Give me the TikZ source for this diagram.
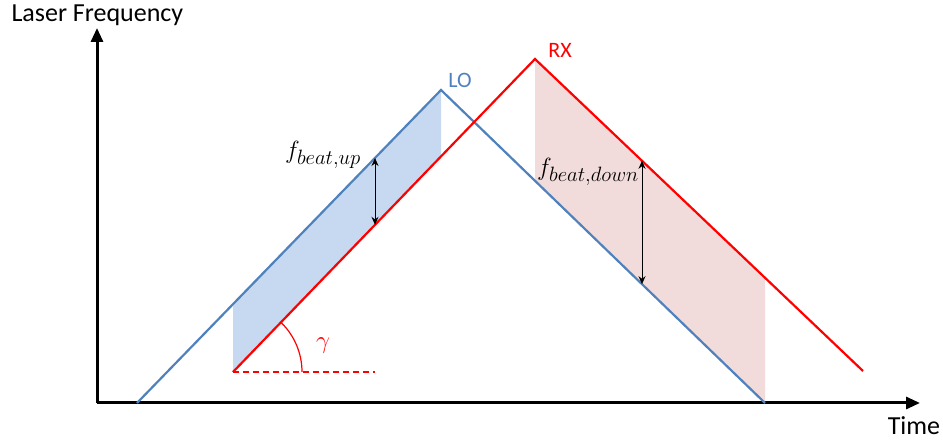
\documentclass[tikz,border=0pt]{standalone}
\usepackage{amsmath}
\usepackage{amssymb}
\usepackage{fontspec}
\setmainfont{Carlito}
\usepackage{tikz}
\usetikzlibrary{arrows.meta}

\definecolor{loblue}{RGB}{79,129,189}
\definecolor{upfill}{RGB}{198,217,240}
\definecolor{downfill}{RGB}{242,220,219}

\begin{document}
\begin{tikzpicture}[x=1pt,y=1pt,
        axis/.style={line width=3pt, -{Triangle[length=14pt,width=12pt]}},
        ramp/.style={line width=2.2pt},
        beat/.style={line width=1pt, {Stealth[length=8pt,width=7pt]}-{Stealth[length=8pt,width=7pt]}},
        biglabel/.style={font=\fontsize{26}{30}\selectfont},
        smalllabel/.style={font=\fontsize{22}{26}\selectfont},
        mathlabel/.style={font=\fontsize{29}{33}\selectfont}]
        \useasboundingbox (-97,-38) rectangle (846,403);

        \coordinate (O) at (0,0);
        \coordinate (LOa) at (40,0);
        \coordinate (LOb) at (344,313);
        \coordinate (LOc) at (668,0);
        \coordinate (RXa) at (136,31);
        \coordinate (RXb) at (438,344);
        \coordinate (RXc) at (766,32);

        \fill[upfill] (RXa) -- (136,98.8) -- (LOb) -- (344,246.6) -- cycle;
        \fill[downfill] (RXb) -- (438,222.2) -- (LOc) -- (668,125.2) -- cycle;

        \draw[axis] (O) -- (823,0);
        \draw[axis] (O) -- (0,375);
        \node[biglabel, anchor=west] (freq) at (-89,388) {Laser Frequency};
        \node[biglabel, inner sep=1pt] (time) at (817,-23) {Time};

        \draw[ramp, loblue] (LOa) -- (LOb) -- (LOc);
        \draw[ramp, red] (RXa) -- (RXb) -- (RXc);
        \node[smalllabel, loblue] (lo) at (363,323) {LO};
        \node[smalllabel, red] (rx) at (463,353) {RX};

        \coordinate (gend) at (278,31);
        \draw[draw=red, line width=1.4pt, dash pattern=on 6pt off 4pt] (RXa) -- (gend);
        \draw[red, line width=1.2pt] ([shift={(0:69)}]RXa) arc (0:46:69);
        \node[font=\fontsize{32}{36}\selectfont, red] (gamma) at (226,57) {$\gamma$};

        \coordinate (upA) at (278,245);
        \coordinate (upB) at (278,178.2);
        \draw[beat] (upA) -- (upB);
        \node[mathlabel] (fup) at (226,248) {$f_{beat,up}$};

        \coordinate (downA) at (545,242.2);
        \coordinate (downB) at (545,118.8);
        \draw[beat] (downA) -- (downB);
        \node[mathlabel] (fdown) at (491,231) {$f_{beat,down}$};
    \end{tikzpicture}
\end{document}
